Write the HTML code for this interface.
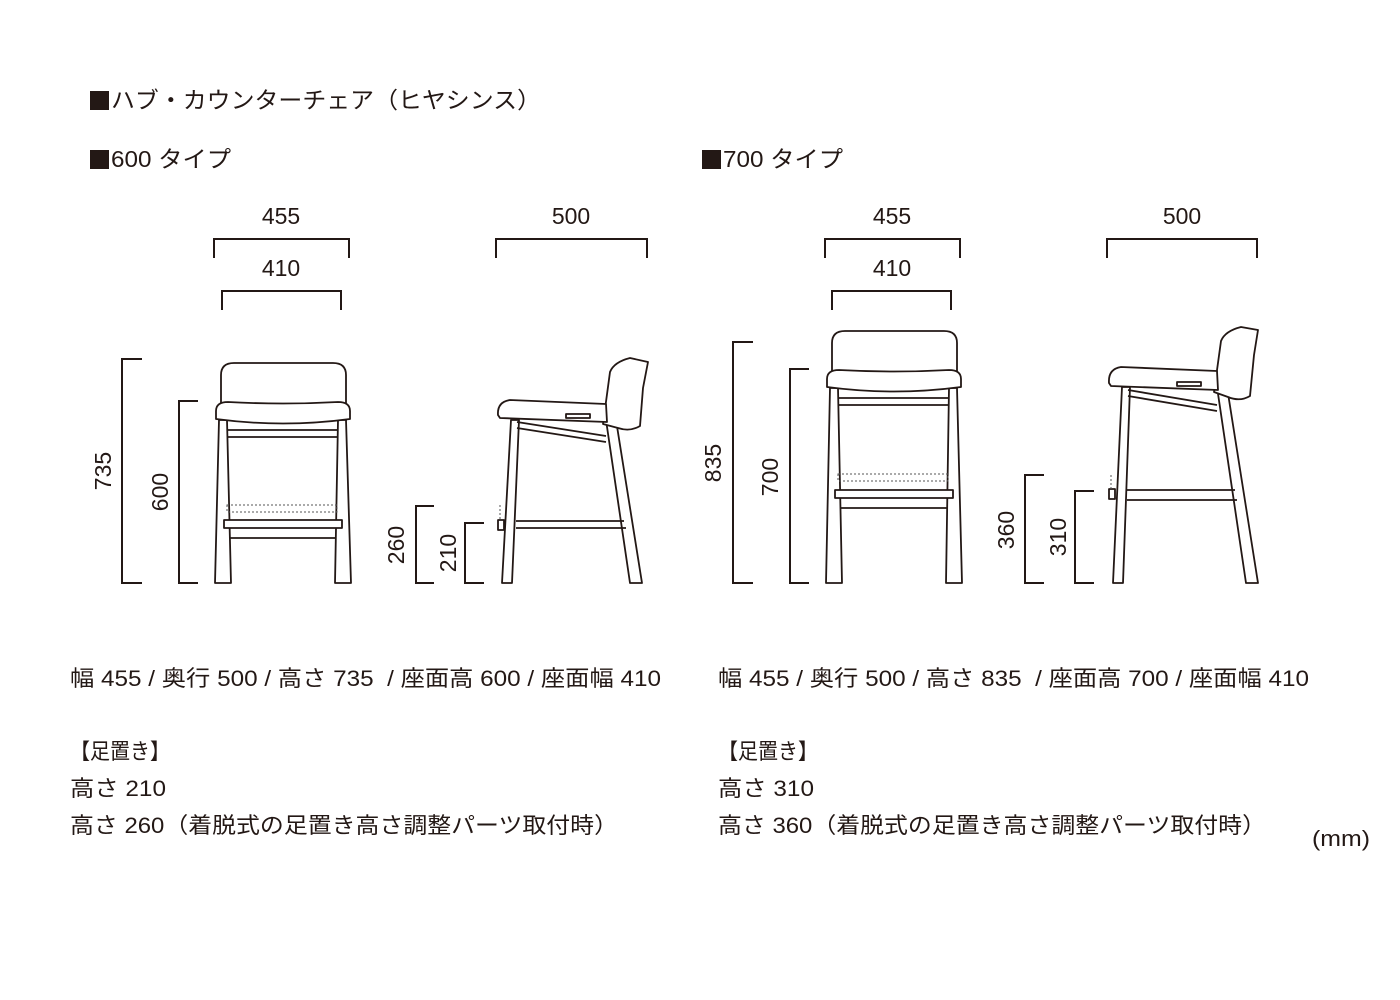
<!DOCTYPE html>
<html><head><meta charset="utf-8"><style>
html,body{margin:0;padding:0;background:#fff;}
svg{display:block;}
text{font-family:"Liberation Sans","Noto Sans CJK JP",sans-serif;fill:#231815;}
</style></head><body>
<svg width="1400" height="1000" viewBox="0 0 1400 1000" xmlns="http://www.w3.org/2000/svg">
<g fill="#231815">
<rect x="90" y="91" width="19" height="19"/>
<rect x="90" y="150" width="19" height="19"/>
<rect x="702" y="150" width="19" height="19"/>
</g>
<g font-size="23">
<text x="111" y="108" textLength="430" lengthAdjust="spacingAndGlyphs">ハブ・カウンターチェア（ヒヤシンス）</text>
<text x="111" y="167" textLength="120" lengthAdjust="spacingAndGlyphs">600 タイプ</text>
<text x="723" y="167" textLength="120" lengthAdjust="spacingAndGlyphs">700 タイプ</text>
</g>
<g font-size="23" text-anchor="middle">
<text x="281" y="224">455</text><text x="281" y="276">410</text>
<text x="571" y="224">500</text>
<text x="892" y="224">455</text><text x="892" y="276">410</text>
<text x="1182" y="224">500</text>
</g>
<g font-size="23" text-anchor="middle">
<text transform="translate(111,471) rotate(-90)">735</text>
<text transform="translate(168,492) rotate(-90)">600</text>
<text transform="translate(404,545) rotate(-90)">260</text>
<text transform="translate(456,553) rotate(-90)">210</text>
<text transform="translate(721,463) rotate(-90)">835</text>
<text transform="translate(778,477) rotate(-90)">700</text>
<text transform="translate(1014,530) rotate(-90)">360</text>
<text transform="translate(1066,537) rotate(-90)">310</text>
</g>
<g fill="none" stroke="#231815" stroke-width="2">
<path d="M214,258V239H349V258"/><path d="M222,310V291H341V310"/><path d="M496,258V239H647V258"/>
<path d="M825,258V239H960V258"/><path d="M832,310V291H951V310"/><path d="M1107,258V239H1257V258"/>
<path d="M142,359H122V583H142"/><path d="M198,401H179V583H198"/>
<path d="M434,506H416V583H434"/><path d="M484,523H465V583H484"/>
<path d="M753,342H733V583H753"/><path d="M809,369H790V583H809"/>
<path d="M1044,475H1025V583H1044"/><path d="M1094,491H1075V583H1094"/>
</g>
<g fill="#fff" stroke="#231815" stroke-width="1.8" stroke-linejoin="round">
<path d="M221,420V375Q221,363 234,363H333Q346,363 346,375V420Z"/>
<path d="M219,420L227,420L231,583L215,583Z"/><path d="M338,420L346,420L351,583L335,583Z"/>
<path d="M227,430H338M227,437H338"/>
<path d="M224,520H342V528H224Z"/><path d="M230,538H336"/>
<path d="M216,419V411Q216,402 228,402Q283,405 338,402Q350,402 350,411V419Q283,428 216,419Z"/>
<path d="M511,420L519,420L512,583L502,583Z"/>
<path d="M606,420L616,420L642,583L630,583Z"/>
<path d="M517,422L606,436M517,428L606,442"/>
<path d="M516,521H624M516,528H626"/>
<path d="M603,424L610,372Q614,362 630,358L648,362L643,388L640,426Q630,432 618,428Z"/>
<path d="M498,415Q497,402 510,400L606,404L607,422L500,418Z"/>
<path d="M566,414H590V418H566Z"/>
<path d="M498,520H504V530H498Z"/>
<path d="M832,388V343Q832,331 845,331H944Q957,331 957,343V388Z"/>
<path d="M830,388L838,388L842,583L826,583Z"/><path d="M949,388L957,388L962,583L946,583Z"/>
<path d="M838,398H949M838,405H949"/>
<path d="M835,490H953V498H835Z"/><path d="M841,508H947"/>
<path d="M827,387V379Q827,370 839,370Q894,373 949,370Q961,370 961,379V387Q894,396 827,387Z"/>
<path d="M1122,387L1130,387L1123,583L1113,583Z"/>
<path d="M1217,387L1227,387L1258,583L1246,583Z"/>
<path d="M1128,390L1217,405M1128,396L1217,411"/>
<path d="M1127,490H1235M1127,500H1237"/>
<path d="M1214,392L1221,341Q1225,331 1241,327L1258,330L1254,355L1250,396Q1240,402 1228,397Z"/>
<path d="M1109,383Q1108,369 1121,367L1217,371L1218,390L1111,386Z"/>
<path d="M1177,382H1201V386H1177Z"/>
<path d="M1109,489H1115V499H1109Z"/>
</g>
<g fill="none" stroke="#555" stroke-width="1" stroke-dasharray="2,2">
<path d="M227,505H337V512H227Z"/><path d="M500,505V520"/>
<path d="M838,474H948V481H838Z"/><path d="M1111,475V489"/>
</g>
<g font-size="22">
<text x="70" y="686" textLength="591" lengthAdjust="spacingAndGlyphs">幅 455 / 奥行 500 / 高さ 735 &#160;/ 座面高 600 / 座面幅 410</text>
<text x="70" y="759" textLength="100" lengthAdjust="spacingAndGlyphs">【足置き】</text>
<text x="70" y="796" textLength="96" lengthAdjust="spacingAndGlyphs">高さ 210</text>
<text x="70" y="833" textLength="548" lengthAdjust="spacingAndGlyphs">高さ 260（着脱式の足置き高さ調整パーツ取付時）</text>
<text x="718" y="686" textLength="591" lengthAdjust="spacingAndGlyphs">幅 455 / 奥行 500 / 高さ 835 &#160;/ 座面高 700 / 座面幅 410</text>
<text x="718" y="759" textLength="100" lengthAdjust="spacingAndGlyphs">【足置き】</text>
<text x="718" y="796" textLength="96" lengthAdjust="spacingAndGlyphs">高さ 310</text>
<text x="718" y="833" textLength="548" lengthAdjust="spacingAndGlyphs">高さ 360（着脱式の足置き高さ調整パーツ取付時）</text>
<text x="1312" y="846" textLength="58" lengthAdjust="spacingAndGlyphs">(mm)</text>
</g>
</svg>
</body></html>
